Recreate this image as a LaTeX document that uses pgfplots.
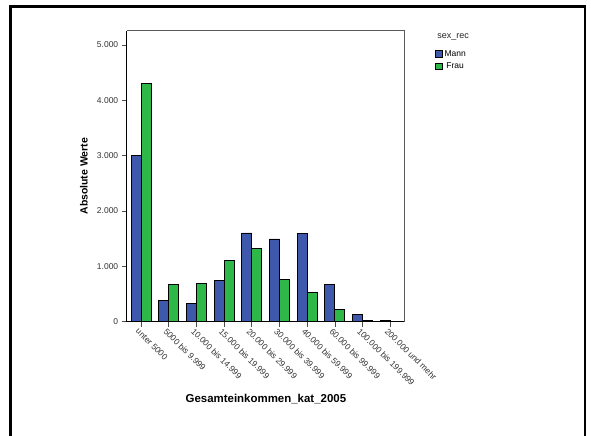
\documentclass[border=0pt]{standalone}
\usepackage{pgfplots}
\pgfplotsset{compat=1.18}
\usepackage{fontspec}
\setmainfont{Liberation Sans}
\definecolor{spssblue}{RGB}{62,88,172}
\definecolor{spssgreen}{RGB}{46,184,72}
\begin{document}
\begin{tikzpicture}
\path[use as bounding box, fill=white] (0,0) rectangle (591bp,-436bp);
\draw[line width=2.5bp] (10.5bp,-436bp) -- (10.5bp,-6.5bp) -- (585bp,-6.5bp) -- (585bp,-436bp);
\begin{axis}[
  at={(126.7bp,-321.7bp)}, anchor=south west,
  scale only axis, width=277.3bp, height=291bp,
  ybar=0pt, bar width=10bp,
  xmin=-0.52, xmax=9.5, ymin=0, ymax=5260,
  axis x line*=bottom, axis y line*=left,
  axis line style={black, line width=0.8bp},
  xtick=data,
  xticklabels={unter 5000,5000 bis 9.999,10.000 bis 14.999,15.000 bis 19.999,20.000 bis 29.999,30.000 bis 39.999,40.000 bis 59.999,60.000 bis 99.999,100.000 bis 199.999,200.000 und mehr},
  ytick={0,1000,2000,3000,4000,5000},
  tick align=outside, major tick length=5bp,
  tick style={black!70, line width=0.6bp},
  /pgf/number format/assume math mode=true,
  /pgf/number format/.cd, 1000 sep={.}, /pgfplots/.cd,
  yticklabel style={font=\fontsize{8.5}{10}\selectfont, text=black!80},
  xticklabel style={font=\fontsize{8.5}{10}\selectfont, text=black!80, rotate=-45, anchor=north west, xshift=-2bp, inner sep=1.5bp},
  ylabel={Absolute Werte},
  ylabel style={font=\fontsize{10.5}{12}\selectfont\bfseries, at={(axis description cs:-0.154,0.5)}, anchor=center},
  xlabel={Gesamteinkommen\_kat\_2005},
  xlabel style={font=\fontsize{11.5}{13}\selectfont\bfseries, at={(axis description cs:0.502,-0.266)}, anchor=center},
  legend style={draw=none, fill=none, at={(axis description cs:1.112,0.94)}, anchor=north west,
    font=\fontsize{8.5}{10}\selectfont, row sep=1.5bp, inner sep=0pt,
    /tikz/every even column/.append style={column sep=2bp}},
  legend image code/.code={\draw[#1, line width=0.8bp, draw=black] (0bp,-3bp) rectangle (6.5bp,3.5bp);},
  clip=false,
]
\addplot[fill=spssblue, draw=black, line width=0.8bp] coordinates {
(0,3010) (1,390) (2,337) (3,745) (4,1605) (5,1495) (6,1597) (7,675) (8,133) (9,25)};
\addplot[fill=spssgreen, draw=black, line width=0.8bp] coordinates {
(0,4313) (1,680) (2,692) (3,1105) (4,1325) (5,765) (6,536) (7,229) (8,18) (9,6)};
\legend{Mann,Frau}
\draw[black!65, line width=0.8bp] (rel axis cs:0,1) -- (rel axis cs:1,1) -- (rel axis cs:1,0);
\node[anchor=west, font=\fontsize{9}{11}\selectfont, text=black!85] at (axis description cs:1.108,0.98) {sex\_rec};
\end{axis}
\end{tikzpicture}
\end{document}
